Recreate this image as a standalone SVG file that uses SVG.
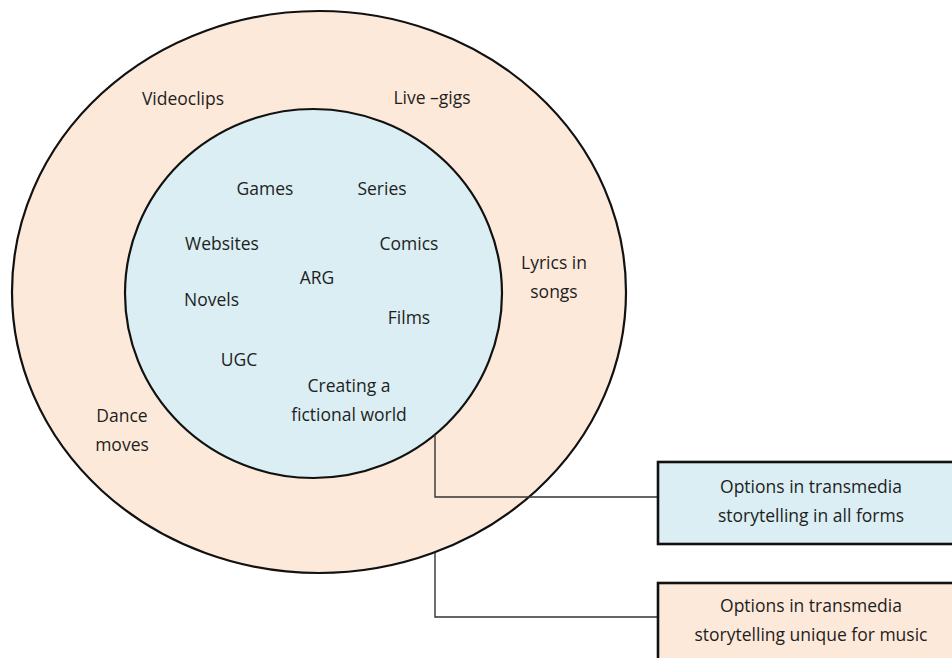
<svg xmlns="http://www.w3.org/2000/svg" width="952" height="658" viewBox="0 0 952 658">
<style>
.t{font-family:"Open Sans","Noto Sans","Liberation Sans",sans-serif;font-size:17.5px;fill:#1e1e1e;text-anchor:middle}
.ring{stroke:#111;stroke-width:2.2}
.box{stroke:#111;stroke-width:2.6}
.conn{fill:none;stroke:#333;stroke-width:1.4}
</style>
<rect width="952" height="658" fill="#fff"/>
<g id="outer">
<ellipse class="ring" cx="319" cy="292" rx="307" ry="281" fill="#FDE9D9"/>
<text class="t" x="183" y="104.5">Videoclips</text>
<text class="t" x="432" y="104">Live –gigs</text>
<text class="t" x="554" y="268.5">Lyrics in</text>
<text class="t" x="554" y="297.5">songs</text>
<text class="t" x="122" y="422">Dance</text>
<text class="t" x="122" y="451">moves</text>
</g>
<g id="inner">
<ellipse class="ring" cx="313.5" cy="293.5" rx="188.5" ry="184.5" fill="#DAEEF3"/>
<text class="t" x="265" y="195">Games</text>
<text class="t" x="382" y="195">Series</text>
<text class="t" x="222" y="250">Websites</text>
<text class="t" x="409" y="250">Comics</text>
<text class="t" x="317" y="284">ARG</text>
<text class="t" x="211.5" y="305.5">Novels</text>
<text class="t" x="409" y="323.5">Films</text>
<text class="t" x="239" y="366">UGC</text>
<text class="t" x="349" y="392">Creating a</text>
<text class="t" x="349" y="421">fictional world</text>
</g>
<g id="connectors">
<polyline class="conn" points="435,434.5 435,497 658,497"/>
<polyline class="conn" points="435,553 435,617 658,617"/>
</g>
<g id="legend-all">
<rect class="box" x="658" y="462" width="310" height="82" fill="#DAEEF3"/>
<text class="t" x="811" y="493">Options in transmedia</text>
<text class="t" x="811" y="522">storytelling in all forms</text>
</g>
<g id="legend-music">
<rect class="box" x="658" y="583" width="310" height="90" fill="#FDE9D9"/>
<text class="t" x="811" y="612">Options in transmedia</text>
<text class="t" x="811" y="641">storytelling unique for music</text>
</g>
</svg>
